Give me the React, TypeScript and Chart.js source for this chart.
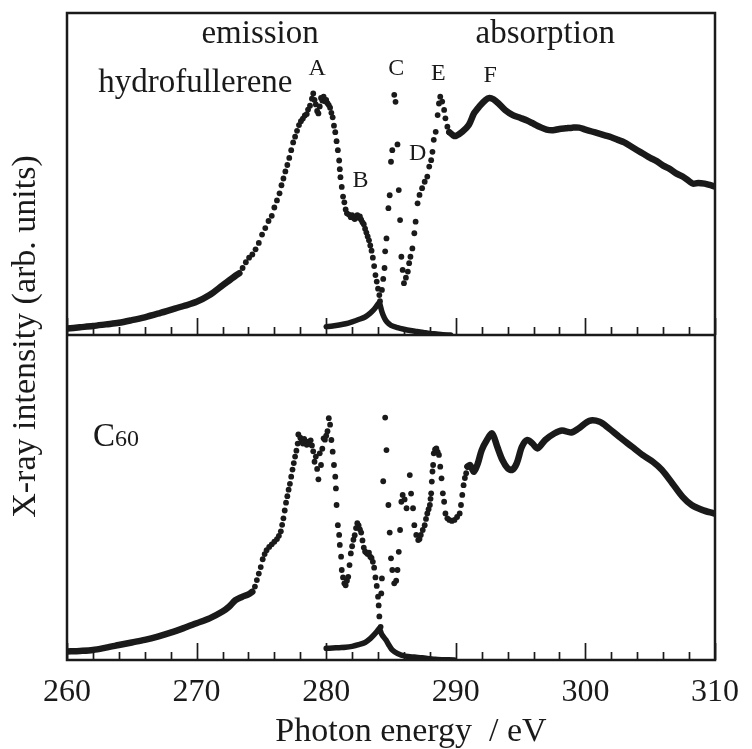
import React, { useEffect, useRef } from 'react';
import { Chart, registerables } from 'chart.js';

Chart.register(...registerables);

// ---------- data (photon energy eV, intensity arb. units) ----------
// Hydrofullerene (upper panel)
const hydroEmissionBand: [number, number][] = [
  [260, 2.0], [261, 2.4], [262, 2.8], [263, 3.3], [264, 3.8], [265, 4.6], [266, 5.5], [267, 6.6],
  [268, 7.8], [269, 9.0], [270, 10.3], [271, 12.4], [272, 15.4], [273, 18.4], [273.3, 19.2],
];
const hydroEmissionDots: [number, number][] = [
  [273.55, 20.8], [273.8, 22.6], [274.05, 24.0], [274.3, 25.0], [274.55, 26.6], [274.8, 28.6],
  [275.05, 31.2], [275.3, 33.2], [275.55, 35.4], [275.8, 37.0], [276.0, 39.6], [276.2, 41.8],
  [276.4, 44.0], [276.55, 46.5], [276.7, 48.6], [276.85, 50.8], [277.0, 52.8], [277.15, 55.0],
  [277.3, 57.4], [277.45, 59.8], [277.6, 61.6], [277.75, 63.4], [277.9, 65.2], [278.05, 66.4],
  [278.2, 67.2], [278.35, 68.2], [278.5, 68.6], [278.6, 70.0], [278.75, 71.2], [278.9, 73.4],
  [279.0, 75.0], [279.1, 73.0], [279.2, 71.6], [279.3, 69.6], [279.4, 68.8], [279.5, 71.0],
  [279.6, 73.6], [279.7, 72.8], [279.8, 74.0], [279.9, 72.6], [280.0, 73.0], [280.1, 72.0],
  [280.2, 71.4], [280.3, 70.6], [280.4, 69.0], [280.5, 67.6], [280.6, 65.0], [280.7, 63.0],
  [280.8, 60.2], [280.9, 57.4], [281.0, 54.2], [281.05, 51.5], [281.1, 49.0], [281.2, 46.0],
  [281.3, 43.0], [281.4, 41.2], [281.5, 39.0], [281.6, 37.8], [281.75, 37.4], [281.9, 36.6],
  [282.0, 37.2], [282.1, 36.4], [282.2, 36.0], [282.3, 36.8], [282.4, 37.2], [282.5, 36.4],
  [282.6, 36.8], [282.7, 35.8], [282.8, 35.0], [282.9, 34.4], [283.0, 33.0], [283.1, 31.8],
  [283.2, 30.6], [283.3, 29.4], [283.4, 27.8], [283.5, 26.2], [283.6, 24.0], [283.7, 21.4],
  [283.8, 18.6], [283.9, 16.6], [284.0, 14.4], [284.1, 12.4], [284.15, 10.5],
];
const hydroTail: [number, number][] = [
  [280.0, 2.6], [280.5, 2.8], [281.0, 3.1], [281.5, 3.5], [282.0, 4.1], [282.5, 4.8], [283.0, 5.6],
  [283.4, 6.8], [283.7, 8.0], [284.0, 9.6], [284.1, 10.0], [284.3, 7.2], [284.5, 5.2], [284.7, 4.0],
  [285.0, 3.0], [285.5, 2.3], [286.0, 1.8], [286.5, 1.4], [287.0, 1.1], [287.5, 0.8], [288.0, 0.5],
  [288.5, 0.3], [289.0, 0.1], [289.6, 0.0],
];
const hydroAbsorptionDots: [number, number][] = [
  [284.3, 14.0], [284.4, 17.4], [284.5, 20.8], [284.55, 26.0], [284.65, 30.0], [284.8, 39.4],
  [284.9, 43.4], [285.0, 53.8], [285.1, 57.4], [285.25, 74.6], [285.35, 72.4], [285.5, 59.2],
  [285.6, 45.0], [285.7, 35.7], [285.8, 24.3], [285.9, 20.2], [286.0, 16.1], [286.15, 17.8],
  [286.3, 19.7], [286.4, 22.3], [286.5, 24.3], [286.65, 26.9], [286.8, 31.6], [286.9, 35.2],
  [287.05, 40.9], [287.2, 43.5], [287.4, 45.6], [287.6, 47.6], [287.8, 49.2], [287.95, 52.3],
  [288.1, 54.3], [288.2, 56.9], [288.3, 60.6], [288.45, 63.1], [288.6, 68.3], [288.7, 71.9],
  [288.8, 74.0], [288.95, 72.5], [289.1, 69.9], [289.2, 67.3], [289.35, 64.7], [289.5, 63.0],
];
const hydroAbsorptionBand: [number, number][] = [
  [289.5, 63.0], [289.8, 62.0], [290.0, 61.8], [290.5, 63.1], [291.0, 65.2], [291.4, 68.8],
  [291.8, 70.9], [292.3, 73.0], [292.6, 73.6], [292.9, 73.2], [293.3, 71.9], [293.8, 69.9],
  [294.4, 68.3], [295.0, 67.4], [295.5, 66.6], [296.0, 65.6], [296.5, 64.6], [297.0, 63.8],
  [297.5, 63.6], [298.0, 64.0], [298.5, 64.2], [299.0, 64.4], [299.5, 64.4], [300.0, 63.8],
  [300.5, 63.2], [301.0, 62.6], [301.5, 62.0], [302.0, 61.4], [302.5, 60.6], [303.0, 59.8],
  [303.5, 58.6], [304.0, 57.4], [304.5, 56.2], [305.0, 55.0], [305.5, 54.0], [306.0, 52.6],
  [306.5, 51.6], [307.0, 50.2], [307.5, 49.2], [308.0, 47.8], [308.3, 47.0], [308.7, 47.2],
  [309.2, 47.0], [309.6, 46.6], [310.0, 46.1],
];

// C60 (lower panel)
const c60EmissionBand: [number, number][] = [
  [260, 2.6], [261, 2.8], [262, 3.1], [263, 3.8], [264, 4.6], [265, 5.4], [266, 6.2], [267, 7.2],
  [268, 8.4], [269, 9.8], [270, 11.3], [271, 12.8], [272, 14.9], [272.5, 16.4], [273.0, 18.4],
  [273.5, 19.4], [274.0, 20.2], [274.3, 21.0],
];
const c60EmissionDots: [number, number][] = [
  [274.5, 22.6], [274.65, 24.6], [274.8, 26.6], [274.95, 28.6], [275.1, 31.0], [275.25, 32.6],
  [275.4, 33.8], [275.6, 34.8], [275.8, 35.6], [276.0, 36.4], [276.2, 37.2], [276.35, 38.2],
  [276.5, 39.6], [276.6, 41.6], [276.7, 43.6], [276.8, 46.0], [276.9, 48.4], [277.0, 50.4],
  [277.1, 52.4], [277.2, 54.2], [277.3, 56.4], [277.4, 58.6], [277.5, 60.6], [277.6, 62.6],
  [277.7, 64.4], [277.8, 66.6], [277.85, 69.4], [278.0, 68.4], [278.1, 67.4], [278.2, 66.6],
  [278.3, 68.0], [278.4, 67.0], [278.5, 66.2], [278.6, 67.2], [278.7, 66.4], [278.8, 67.6],
  [278.9, 66.0], [279.0, 64.2], [279.1, 61.0], [279.2, 62.6], [279.3, 58.8], [279.4, 55.6],
  [279.5, 63.6], [279.6, 60.0], [279.7, 65.0], [279.8, 68.2], [279.9, 67.8], [280.0, 69.0],
  [280.1, 70.4], [280.2, 74.4], [280.3, 72.4], [280.4, 67.7], [280.5, 64.1], [280.6, 60.0],
  [280.7, 56.4], [280.75, 52.8], [280.8, 47.7], [280.9, 41.5], [281.0, 38.5], [281.05, 35.4],
  [281.15, 31.8], [281.2, 27.7], [281.3, 25.4], [281.4, 23.6], [281.5, 23.0], [281.6, 24.4],
  [281.7, 25.6], [281.8, 29.2], [281.9, 32.8], [282.0, 35.0], [282.1, 37.0], [282.2, 38.4],
  [282.3, 40.6], [282.4, 42.1], [282.5, 41.4], [282.6, 40.2], [282.7, 39.2], [282.8, 36.8],
  [282.9, 34.6], [283.0, 33.4], [283.1, 33.0], [283.2, 32.6], [283.3, 33.0], [283.4, 31.8],
  [283.5, 31.4], [283.6, 30.2], [283.7, 28.4], [283.8, 25.4], [283.9, 22.8], [284.0, 19.5],
  [284.05, 16.8], [284.1, 13.4], [284.2, 10.2],
];
const c60Tail: [number, number][] = [
  [280.0, 3.6], [280.5, 3.7], [281.0, 3.8], [281.5, 3.9], [282.0, 4.2], [282.5, 4.7], [283.0, 5.4],
  [283.4, 6.6], [283.7, 7.8], [284.0, 9.2], [284.1, 9.7], [284.3, 7.8], [284.6, 6.2], [284.9, 4.2],
  [285.1, 3.1], [285.5, 2.0], [286.1, 1.2], [286.8, 0.9], [287.4, 0.7], [288.0, 0.4], [288.4, 0.2],
  [289.0, 0.1], [289.9, 0.0],
];
const c60AbsorptionDots: [number, number][] = [
  [284.25, 20.5], [284.3, 25.1], [284.4, 55.0], [284.55, 74.6], [284.65, 64.6], [284.8, 47.7],
  [284.9, 39.2], [285.0, 31.3], [285.1, 27.7], [285.25, 23.6], [285.4, 24.4], [285.5, 27.7],
  [285.6, 33.3], [285.7, 40.0], [285.8, 48.7], [285.9, 50.8], [286.05, 49.4], [286.2, 46.7],
  [286.45, 56.9], [286.55, 51.2], [286.7, 46.7], [286.8, 41.5], [286.95, 38.5], [287.1, 36.9],
  [287.2, 37.2], [287.3, 38.5], [287.45, 40.0], [287.6, 41.5], [287.7, 43.4], [287.8, 45.1],
  [287.9, 46.4], [288.0, 47.7], [288.05, 49.6], [288.1, 51.3], [288.15, 54.9], [288.2, 58.0],
  [288.25, 60.0], [288.3, 63.6], [288.4, 64.8], [288.5, 65.1], [288.6, 64.0], [288.7, 63.1],
  [288.8, 59.5], [288.9, 55.9], [289.0, 51.3], [289.1, 48.7], [289.2, 45.1], [289.35, 43.6],
  [289.5, 43.1], [289.7, 42.8], [289.9, 43.1], [290.1, 44.0], [290.3, 45.1], [290.4, 47.7],
  [290.5, 50.8], [290.6, 53.8], [290.7, 56.0], [290.8, 57.5], [290.9, 59.5],
];
const c60AbsorptionBand: [number, number][] = [
  [290.9, 59.5], [291.1, 60.0], [291.4, 57.9], [291.7, 60.5], [292.0, 64.6], [292.4, 67.7],
  [292.8, 69.7], [293.2, 65.6], [293.6, 61.5], [294.0, 59.0], [294.35, 58.5], [294.7, 60.5],
  [295.1, 65.6], [295.5, 67.7], [295.9, 66.7], [296.3, 65.1], [296.9, 67.7], [297.6, 69.7],
  [298.2, 70.6], [298.9, 70.0], [299.5, 71.3], [300.3, 73.6], [301.1, 73.3], [301.8, 71.3],
  [302.6, 68.7], [303.6, 65.6], [304.4, 63.1], [305.2, 61.0], [305.9, 58.5], [306.7, 54.4],
  [307.5, 50.2], [308.2, 47.7], [309.0, 46.2], [309.9, 45.1], [310.0, 45.0],
];

// annotations: [text, energy, intensity]
const topLabels: [string, number, number][] = [
  ['emission', 274.9, 90.7],
  ['absorption', 296.9, 90.7],
  ['hydrofullerene', 269.9, 75.5],
];
const peakLetters: [string, number, number][] = [
  ['A', 279.3, 80.7],
  ['B', 282.65, 46.0],
  ['C', 285.4, 80.7],
  ['D', 287.05, 54.3],
  ['E', 288.65, 79.2],
  ['F', 292.65, 78.6],
];
const bottomLabel: [string, string, number, number] = ['C', '60', 262.0, 65.8];

const xMin = 260;
const xMax = 310;
const xMajorStep = 10;
const xMinorStep = 2;
const xTitle = 'Photon energy  / eV';
const yTitle = 'X-ray intensity (arb. units)';

// ---------- styling ----------
const INK = '#1a1a1a';
const FONT = '"Liberation Serif", "Times New Roman", Times, serif';

const pts = (a: [number, number][]) => a.map(([x, y]) => ({ x, y }));

const dots = (data: [number, number][], axis: string) => ({
  data: pts(data),
  yAxisID: axis,
  showLine: false,
  pointRadius: 2.9,
  pointBorderWidth: 0,
  pointBackgroundColor: INK,
  backgroundColor: INK,
});
const band = (data: [number, number][], axis: string, w = 6) => ({
  data: pts(data),
  yAxisID: axis,
  showLine: true,
  borderColor: INK,
  borderWidth: w,
  pointRadius: 0,
  tension: 0.3,
  borderCapStyle: 'round',
  borderJoinStyle: 'round',
});

const decorPlugin = {
  id: 'decor',
  afterDraw(chart: any) {
    const { ctx, chartArea: a, scales } = chart;
    const x = scales.x;
    const yT = scales.yTop;
    const yB = scales.yBot;
    ctx.save();
    // frame
    ctx.strokeStyle = INK;
    ctx.lineWidth = 2.5;
    ctx.strokeRect(a.left, a.top, a.right - a.left, a.bottom - a.top);
    ctx.beginPath();
    ctx.moveTo(a.left, yT.bottom);
    ctx.lineTo(a.right, yT.bottom);
    ctx.stroke();
    // inward ticks on both panel baselines
    ctx.lineWidth = 1.7;
    ctx.beginPath();
    for (let v = xMin; v <= xMax + 1e-9; v += xMinorStep) {
      const px = Math.round(x.getPixelForValue(v)) + 0.5;
      const major = Math.abs(((v - xMin) % xMajorStep)) < 1e-9;
      const len = major ? 17 : 8;
      for (const base of [yT.bottom, yB.bottom]) {
        ctx.moveTo(px, base);
        ctx.lineTo(px, base - len);
      }
    }
    ctx.stroke();

    ctx.fillStyle = INK;
    ctx.textBaseline = 'alphabetic';
    ctx.textAlign = 'center';
    // panel labels
    ctx.font = `33px ${FONT}`;
    for (const [t, e, v] of topLabels) {
      ctx.fillText(t, x.getPixelForValue(e), yT.getPixelForValue(v));
    }
    ctx.font = `24px ${FONT}`;
    for (const [t, e, v] of peakLetters) {
      ctx.fillText(t, x.getPixelForValue(e), yT.getPixelForValue(v));
    }
    // C60
    ctx.textAlign = 'left';
    const bx = x.getPixelForValue(bottomLabel[2]);
    const by = yB.getPixelForValue(bottomLabel[3]);
    ctx.font = `33px ${FONT}`;
    ctx.fillText(bottomLabel[0], bx, by);
    const cw = ctx.measureText(bottomLabel[0]).width;
    ctx.font = `24px ${FONT}`;
    ctx.fillText(bottomLabel[1], bx + cw, by);

    // axis titles
    ctx.font = `34px ${FONT}`;
    ctx.textAlign = 'center';
    ctx.fillText(xTitle, (a.left + a.right) / 2 + 20, 741);
    ctx.save();
    ctx.translate(35, (a.top + a.bottom) / 2);
    ctx.rotate(-Math.PI / 2);
    ctx.fillText(yTitle, 0, 0);
    ctx.restore();
    ctx.restore();
  },
};

export default function App() {
  const ref = useRef<HTMLCanvasElement>(null);
  useEffect(() => {
    if (!ref.current) return;
    const chart = new Chart(ref.current, {
      type: 'scatter',
      data: {
        datasets: [
          band(hydroEmissionBand, 'yTop', 6.5),
          dots(hydroEmissionDots, 'yTop'),
          band(hydroTail, 'yTop', 5.5),
          dots(hydroAbsorptionDots, 'yTop'),
          band(hydroAbsorptionBand, 'yTop', 6.5),
          band(c60EmissionBand, 'yBot', 6.5),
          dots(c60EmissionDots, 'yBot'),
          band(c60Tail, 'yBot', 5.5),
          dots(c60AbsorptionDots, 'yBot'),
          band(c60AbsorptionBand, 'yBot', 6.5),
        ] as any,
      },
      options: {
        animation: false,
        responsive: false,
        devicePixelRatio: 1,
        layout: { padding: { top: 13, right: 36, bottom: 0, left: 0 } },
        plugins: { legend: { display: false }, tooltip: { enabled: false } },
        scales: {
          x: {
            type: 'linear',
            position: 'bottom',
            min: xMin,
            max: xMax,
            grid: { display: false, drawTicks: false, tickLength: 0 },
            border: { display: false },
            ticks: {
              stepSize: xMajorStep,
              autoSkip: false,
              maxRotation: 0,
              padding: 13,
              color: INK,
              font: { family: FONT, size: 32 },
            },
            afterFit: (s: any) => {
              s.height = 89;
            },
          },
          yTop: {
            type: 'linear',
            position: 'left',
            stack: 'panels',
            stackWeight: 322,
            weight: 1,
            min: 0,
            max: 100,
            grid: { display: false, drawTicks: false },
            border: { display: false },
            ticks: { display: false },
            afterFit: (s: any) => {
              s.width = 67;
            },
          },
          yBot: {
            type: 'linear',
            position: 'left',
            stack: 'panels',
            stackWeight: 325,
            weight: 0,
            min: 0,
            max: 100,
            grid: { display: false, drawTicks: false },
            border: { display: false },
            ticks: { display: false },
            afterFit: (s: any) => {
              s.width = 67;
            },
          },
        },
      } as any,
      plugins: [decorPlugin],
    });
    return () => chart.destroy();
  }, []);
  return (
    <canvas
      ref={ref}
      width={752}
      height={749}
      style={{ position: 'fixed', left: 0, top: 0, width: 752, height: 749, background: '#fff' }}
    />
  );
}
